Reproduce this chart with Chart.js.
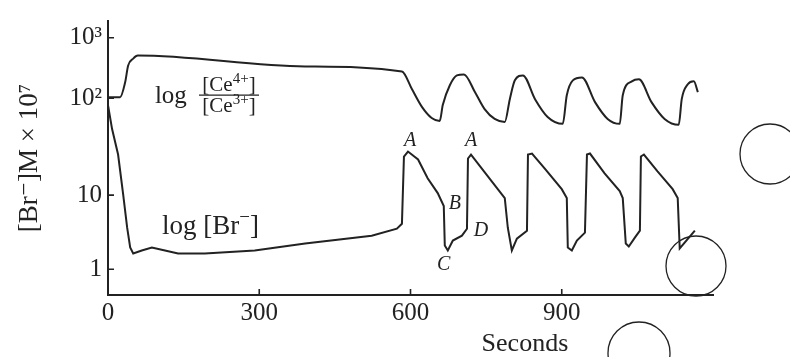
<!DOCTYPE html>
<html><head><meta charset="utf-8">
<script src="https://cdn.jsdelivr.net/npm/chart.js@4"></script>
<style>html,body{margin:0;padding:0;background:#fff}#wrap{width:790px;height:357px}</style>
</head><body><div id="wrap"><canvas id="c" width="790" height="357"></canvas></div>
<script>
// ---- data (time in seconds, level in axis units) ----
const ceTime  = [0, 24, 34, 40, 50, 59, 391, 583, 603, 623, 642, 658, 664, 678, 692, 706, 728, 747, 767, 787, 797, 807, 823, 847, 872, 902, 910, 922, 940, 966, 991, 1015, 1021, 1039, 1053, 1078, 1104, 1132, 1138, 1150, 1162, 1170];
const ceLevel = [200, 200, 215, 232, 239, 242, 231, 226, 208, 190, 179, 176, 192, 212, 222, 223, 205, 188, 178, 175, 198, 217, 222, 198, 180, 173, 202, 217, 220, 195, 178, 173, 202, 216, 218, 195, 178, 172, 198, 213, 216, 205];
const brTime  = [0, 8, 20, 30, 38, 44, 50, 67, 87, 113, 139, 192, 291, 391, 523, 573, 583, 587, 595, 615, 634, 654, 666, 668, 674, 684, 702, 712, 714, 720, 787, 793, 801, 811, 831, 833, 841, 866, 900, 910, 912, 920, 930, 946, 950, 956, 985, 1015, 1021, 1027, 1033, 1045, 1055, 1057, 1063, 1090, 1120, 1130, 1134, 1164];
const brLevel = [192, 168, 142, 102, 68, 48, 42, 45, 48, 45, 42, 42, 45, 52, 60, 67, 72, 140, 145, 137, 118, 103, 90, 50, 45, 55, 60, 67, 138, 142, 98, 68, 45, 57, 65, 142, 143, 128, 107, 98, 48, 45, 55, 63, 142, 143, 123, 105, 98, 52, 49, 58, 65, 140, 142, 125, 107, 98, 47, 65];
const xTickValues = [0, 300, 600, 900];
const yTickValues = [26, 101, 199, 260];
const yTickLabels = ['1', '10', '10\u00B2', '10\u00B3'];
const pointLabels = ['A', 'A', 'B', 'C', 'D'];
const pointLabelTime  = [599, 720, 688, 666, 740];
const pointLabelLevel = [156, 156, 92, 31, 65];

const INK = '#222';
const SERIF = '"Liberation Serif", "DejaVu Serif", serif';

function pts(t, v) { return t.map((x, i) => ({ x: x, y: v[i] })); }

function drawWithSup(ctx, parts, x, y, size) {
  let cx = x;
  for (const [t, sup] of parts) {
    ctx.font = (sup ? Math.round(size * 0.72) : size) + 'px ' + SERIF;
    ctx.fillText(t, cx, sup ? y - size * 0.38 : y);
    cx += ctx.measureText(t).width;
  }
  return cx - x;
}
function widthWithSup(ctx, parts, size) {
  let w = 0;
  for (const [t, sup] of parts) {
    ctx.font = (sup ? Math.round(size * 0.72) : size) + 'px ' + SERIF;
    w += ctx.measureText(t).width;
  }
  return w;
}

const decor = {
  id: 'decor',
  afterDraw(chart) {
    const ctx = chart.ctx, xs = chart.scales.x, ys = chart.scales.y;
    ctx.save();
    ctx.strokeStyle = INK; ctx.fillStyle = INK; ctx.lineWidth = 1.6;
    // inner tick marks
    ctx.beginPath();
    yTickValues.forEach(v => { const p = ys.getPixelForValue(v); ctx.moveTo(xs.left, p); ctx.lineTo(xs.left + 6, p); });
    xTickValues.slice(1).forEach(v => { const p = xs.getPixelForValue(v); ctx.moveTo(p, ys.bottom); ctx.lineTo(p, ys.bottom - 6); });
    ctx.stroke();

    ctx.textBaseline = 'alphabetic'; ctx.textAlign = 'left';
    // log [Ce4+]/[Ce3+]
    let lx = xs.getPixelForValue(93), ly = ys.getPixelForValue(194);
    ctx.font = '25px ' + SERIF; ctx.fillText('log', lx, ly);
    const fcx = xs.getPixelForValue(240);
    const num = [['[Ce', false], ['4+', true], [']', false]];
    const den = [['[Ce', false], ['3+', true], [']', false]];
    const fs = 21;
    let w = widthWithSup(ctx, num, fs);
    drawWithSup(ctx, num, fcx - w / 2, ys.getPixelForValue(206), fs);
    w = widthWithSup(ctx, den, fs);
    drawWithSup(ctx, den, fcx - w / 2, ys.getPixelForValue(185), fs);
    const fy = ys.getPixelForValue(202);
    ctx.lineWidth = 1.2; ctx.beginPath(); ctx.moveTo(fcx - 30, fy); ctx.lineTo(fcx + 30, fy); ctx.stroke();

    // log [Br-]
    lx = xs.getPixelForValue(107); ly = ys.getPixelForValue(62);
    drawWithSup(ctx, [['log [Br', false], ['\u2212', true], [']', false]], lx, ly, 27);

    // point labels
    ctx.font = 'italic 20px ' + SERIF; ctx.textAlign = 'center'; ctx.textBaseline = 'middle';
    pointLabels.forEach((t, i) => ctx.fillText(t, xs.getPixelForValue(pointLabelTime[i]), ys.getPixelForValue(pointLabelLevel[i])));

    // x title
    ctx.font = '26px ' + SERIF; ctx.textBaseline = 'alphabetic';
    ctx.fillText('Seconds', xs.getPixelForValue(827), 351);

    // scan circles
    ctx.lineWidth = 1.3;
    [[770, 154, 30], [696, 266, 30], [639, 353, 31]].forEach(([cx, cy, r]) => {
      ctx.beginPath(); ctx.arc(cx, cy, r, 0, Math.PI * 2); ctx.stroke();
    });
    ctx.restore();
  }
};

new Chart(document.getElementById('c'), {
  type: 'line',
  data: {
    datasets: [
      { label: 'log [Ce4+]/[Ce3+]', data: pts(ceTime, ceLevel), borderColor: INK, borderWidth: 2, pointRadius: 0, cubicInterpolationMode: 'monotone', fill: false },
      { label: 'log [Br-]', data: pts(brTime, brLevel), borderColor: INK, borderWidth: 2, pointRadius: 0, tension: 0, fill: false }
    ]
  },
  options: {
    responsive: false, animation: false, devicePixelRatio: 1,
    layout: { padding: { top: 18, right: 77, left: 0, bottom: 0 } },
    plugins: { legend: { display: false }, tooltip: { enabled: false } },
    scales: {
      x: {
        type: 'linear', min: 0, max: 1200,
        afterBuildTicks: s => { s.ticks = xTickValues.map(v => ({ value: v })); },
        afterFit: s => { s.height = 62; },
        grid: { display: false, drawTicks: false },
        border: { display: true, color: INK, width: 2 },
        ticks: { color: INK, font: { family: SERIF, size: 25 }, padding: 3, maxRotation: 0, autoSkip: false, callback: v => String(v) }
      },
      y: {
        type: 'linear', min: 0, max: 277,
        afterBuildTicks: s => { s.ticks = yTickValues.map(v => ({ value: v })); },
        afterFit: s => { s.width = 108; },
        grid: { display: false, drawTicks: false },
        border: { display: true, color: INK, width: 2 },
        ticks: { color: INK, font: { family: SERIF, size: 25 }, padding: 6, autoSkip: false,
          callback: v => { const i = yTickValues.indexOf(v); return i >= 0 ? yTickLabels[i] : ''; } },
        title: { display: true, text: '[Br\u207B]M \u00D7 10\u2077', color: INK, font: { family: SERIF, size: 27 }, padding: { top: 14, bottom: 0 } }
      }
    }
  },
  plugins: [decor]
});
</script>
</body></html>
